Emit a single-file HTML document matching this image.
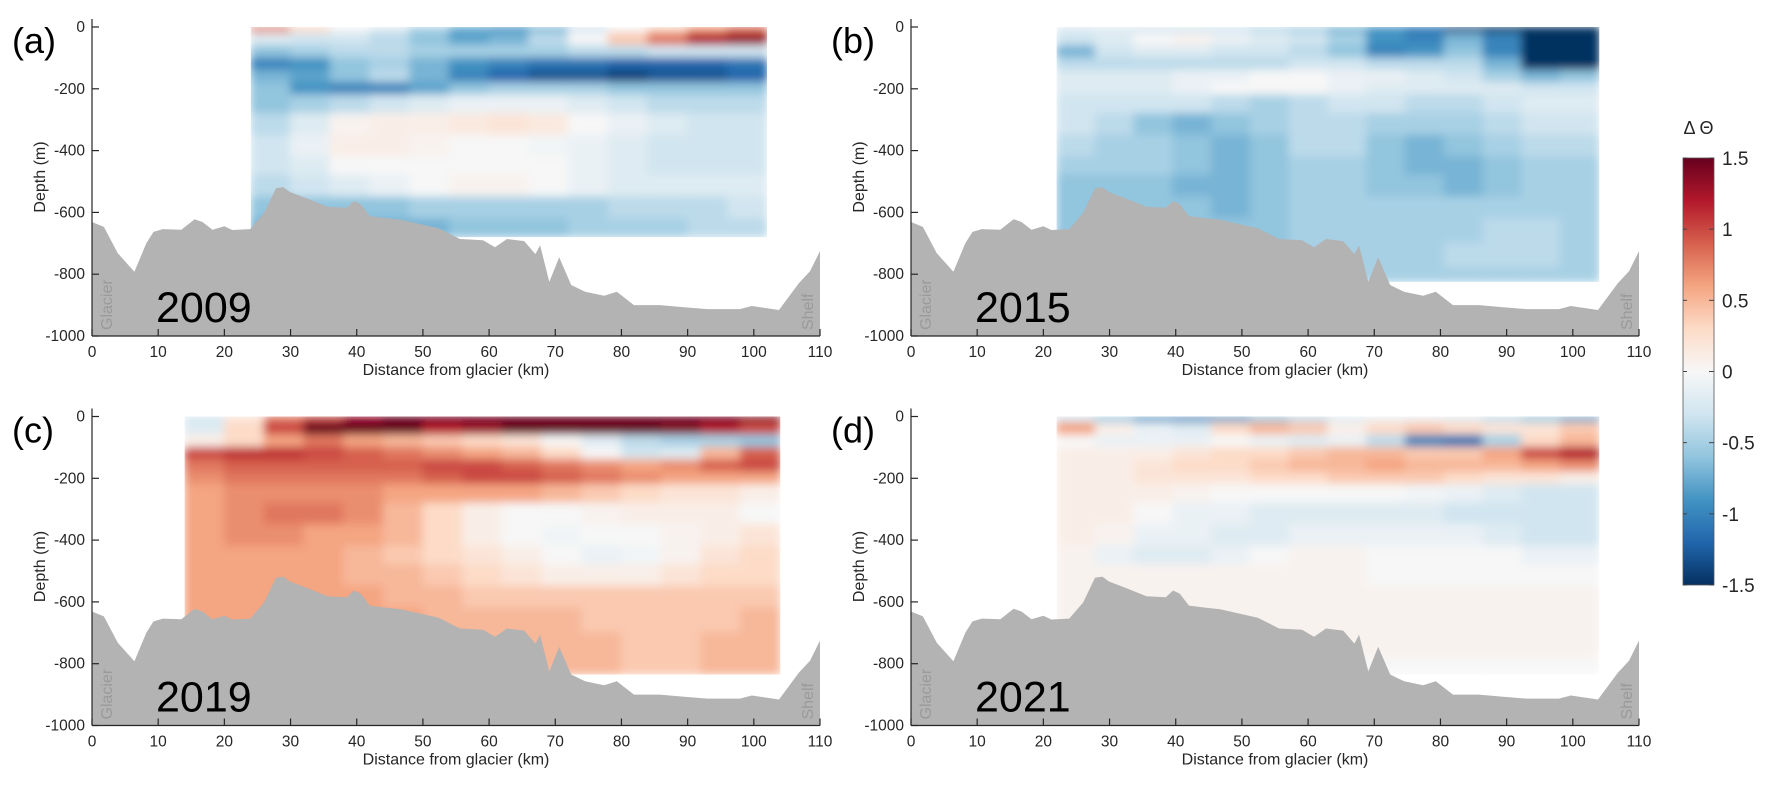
<!DOCTYPE html>
<html><head><meta charset="utf-8"><style>
html,body{margin:0;padding:0;background:#fff;}
svg{display:block;font-family:"Liberation Sans",sans-serif;}
</style></head><body>
<svg id="fig" width="1771" height="786" viewBox="0 0 1771 786">
<defs>
<filter id="soft" x="0" y="0" width="1" height="1"><feGaussianBlur stdDeviation="4.5" edgeMode="duplicate"/></filter>
<linearGradient id="cbar" x1="0" y1="1" x2="0" y2="0">
<stop offset="0" stop-color="#053061"/><stop offset="0.1" stop-color="#2166ac"/><stop offset="0.2" stop-color="#4393c3"/><stop offset="0.3" stop-color="#92c5de"/><stop offset="0.4" stop-color="#d1e5f0"/><stop offset="0.5" stop-color="#f7f7f7"/><stop offset="0.6" stop-color="#fddbc7"/><stop offset="0.7" stop-color="#f4a582"/><stop offset="0.8" stop-color="#d6604d"/><stop offset="0.9" stop-color="#b2182b"/><stop offset="1" stop-color="#67001f"/>
</linearGradient>
</defs>
</svg>
<script>
// ---- data ----
const depthEdges=[0,20,60,100,140,180,220,280,350,420,480,550,620,700,780,840];
const xTicks=[0,10,20,30,40,50,60,70,80,90,100,110];
const yTicks=[0,-200,-400,-600,-800,-1000];
const cbarTicks=[1.5,1,0.5,0,-0.5,-1,-1.5];
const bathyKm=[0,1.8,3.9,6.4,8.2,9.3,10.7,13.5,15.5,16.7,18.2,20,21.2,23.9,26,27.8,28.9,29.9,32.4,35.6,38.5,39.6,40.6,42,44.6,46.7,50.3,52.4,55.6,57.4,59.1,60.9,62.7,65.3,67,67.7,69.1,70.6,72.4,74.5,77.4,79.3,81.9,85.8,89.5,93,97.9,99.7,103.8,106.8,108.5,110];
const bathyDepth=[-631,-647,-732,-792,-700,-663,-654,-656,-622,-631,-656,-645,-657,-654,-602,-522,-518,-534,-554,-582,-585,-563,-573,-612,-619,-624,-641,-651,-686,-688,-690,-713,-686,-693,-735,-706,-825,-745,-835,-857,-870,-857,-900,-900,-907,-913,-913,-903,-916,-829,-790,-725];
const yearA="2009",yearB="2015",yearC="2019",yearD="2021";
const extentA=[24,102,680],extentB=[22,104,825],extentC=[14,104,835],extentD=[22,104,835];
const dataA=[
[0.8,0.3,0,-0.2,-0.5,-0.8,-0.9,-0.7,-0.3,0,0.3,0.6,0.8],
[-0.2,-0.3,-0.3,-0.4,-0.6,-0.8,-0.7,-0.4,0,0.4,0.8,1.2,1.3],
[-0.6,-0.5,-0.4,-0.4,-0.5,-0.5,-0.5,-0.5,-0.4,-0.4,-0.3,-0.3,-0.3],
[-1.0,-0.9,-0.6,-0.5,-0.7,-0.9,-1.0,-1.1,-1.1,-1.2,-1.2,-1.2,-1.1],
[-0.7,-0.8,-0.6,-0.4,-0.7,-1.0,-1.2,-1.3,-1.3,-1.4,-1.3,-1.3,-1.2],
[-0.6,-0.9,-1.0,-1.0,-0.8,-0.6,-0.5,-0.5,-0.5,-0.6,-0.6,-0.6,-0.6],
[-0.6,-0.5,-0.4,-0.3,-0.2,-0.1,-0.1,-0.1,-0.2,-0.3,-0.4,-0.4,-0.4],
[-0.4,-0.2,0.05,0.1,0.1,0.15,0.2,0.15,0,-0.1,-0.2,-0.3,-0.3],
[-0.3,-0.1,0.1,0.1,0.05,0,0,-0.05,-0.1,-0.2,-0.3,-0.3,-0.3],
[-0.3,-0.2,0,0,0,0,0,0,-0.1,-0.2,-0.3,-0.3,-0.3],
[-0.4,-0.3,-0.2,-0.1,0,0.05,0.05,0,-0.1,-0.2,-0.2,-0.2,-0.2],
[-0.6,-0.6,-0.6,-0.6,-0.5,-0.5,-0.5,-0.5,-0.5,-0.4,-0.4,-0.4,-0.3],
[-0.7,-0.7,-0.7,-0.7,-0.7,-0.6,-0.6,-0.6,-0.5,-0.5,-0.5,-0.4,-0.4]];
const dataB=[
[-0.2,-0.2,-0.3,-0.3,-0.3,-0.4,-0.5,-0.7,-0.9,-1.1,-1.4,-1.5,-1.5,-1.5],
[-0.3,-0.2,0,0.05,-0.1,-0.2,-0.3,-0.5,-0.9,-1.0,-0.7,-1.0,-1.5,-1.5],
[-0.7,-0.3,-0.2,-0.2,-0.3,-0.3,-0.4,-0.6,-1.0,-0.9,-0.6,-1.0,-1.5,-1.5],
[-0.4,-0.4,-0.4,-0.4,-0.4,-0.4,-0.3,-0.3,-0.4,-0.4,-0.4,-0.7,-1.5,-1.5],
[-0.2,-0.2,-0.2,-0.1,-0.1,0,0,-0.1,-0.1,-0.2,-0.3,-0.5,-0.7,-0.6],
[-0.2,-0.2,-0.2,-0.1,0,0,0,-0.1,-0.2,-0.2,-0.2,-0.2,-0.3,-0.3],
[-0.3,-0.3,-0.3,-0.3,-0.4,-0.5,-0.4,-0.3,-0.3,-0.4,-0.4,-0.3,-0.2,-0.2],
[-0.3,-0.4,-0.6,-0.7,-0.6,-0.5,-0.4,-0.4,-0.5,-0.5,-0.5,-0.4,-0.3,-0.3],
[-0.4,-0.5,-0.5,-0.6,-0.7,-0.6,-0.4,-0.4,-0.6,-0.7,-0.6,-0.5,-0.4,-0.4],
[-0.5,-0.5,-0.5,-0.6,-0.7,-0.6,-0.5,-0.5,-0.6,-0.7,-0.7,-0.6,-0.5,-0.5],
[-0.6,-0.6,-0.6,-0.7,-0.7,-0.6,-0.5,-0.5,-0.6,-0.6,-0.7,-0.6,-0.5,-0.5],
[-0.6,-0.6,-0.6,-0.6,-0.7,-0.6,-0.5,-0.5,-0.5,-0.5,-0.5,-0.5,-0.5,-0.5],
[-0.6,-0.6,-0.6,-0.6,-0.6,-0.6,-0.5,-0.5,-0.5,-0.5,-0.5,-0.4,-0.4,-0.5],
[-0.6,-0.6,-0.6,-0.6,-0.6,-0.6,-0.5,-0.5,-0.5,-0.5,-0.4,-0.4,-0.4,-0.5],
[-0.5,-0.5,-0.5,-0.5,-0.5,-0.5,-0.5,-0.5,-0.5,-0.5,-0.5,-0.5,-0.5,-0.5]];
const dataC=[
[-0.3,0.2,0.8,1.0,1.3,1.5,1.5,1.5,1.5,1.5,1.5,1.5,1.5,1.5,1.4],
[-0.2,0.3,1.0,1.5,1.5,1.5,1.2,1.3,1.5,1.5,1.5,1.5,1.4,1.2,1.0],
[0.1,0.3,0.6,0.8,0.6,0.5,0.4,0.3,0.2,0,-0.2,-0.4,-0.5,-0.5,-0.6],
[1.0,1.1,1.1,1.0,0.9,0.8,0.7,0.6,0.5,0.3,0,-0.3,-0.2,0.5,0.9],
[0.8,0.9,0.9,0.9,0.9,0.9,1.0,1.0,0.9,0.8,0.7,0.6,0.7,0.9,1.0],
[0.7,0.8,0.8,0.8,0.8,0.8,0.9,1.0,1.0,0.9,0.8,0.7,0.6,0.6,0.6],
[0.6,0.7,0.7,0.7,0.7,0.6,0.6,0.6,0.6,0.5,0.4,0.3,0.2,0.2,0.1],
[0.6,0.7,0.8,0.8,0.7,0.5,0.3,0.1,0,0,0.05,0.1,0.1,0.1,0],
[0.6,0.7,0.7,0.6,0.6,0.5,0.3,0.1,0,-0.05,0,0,0.05,0.1,0.2],
[0.6,0.6,0.6,0.6,0.5,0.4,0.3,0.2,0.1,0,-0.1,-0.05,0.05,0.2,0.3],
[0.6,0.6,0.6,0.6,0.5,0.5,0.4,0.3,0.2,0.1,0.1,0.1,0.2,0.3,0.3],
[0.6,0.6,0.6,0.6,0.6,0.5,0.5,0.4,0.4,0.4,0.4,0.4,0.4,0.4,0.4],
[0.6,0.6,0.6,0.6,0.6,0.6,0.5,0.5,0.5,0.5,0.4,0.4,0.4,0.4,0.5],
[0.6,0.6,0.6,0.6,0.6,0.6,0.6,0.5,0.5,0.5,0.5,0.4,0.4,0.5,0.5],
[0.5,0.5,0.5,0.5,0.5,0.5,0.5,0.5,0.5,0.5,0.5,0.4,0.4,0.5,0.5]];
const dataD=[
[-0.3,-0.6,-0.9,-1.0,-0.9,-0.6,-0.4,-0.2,-0.1,-0.1,-0.2,-0.4,-0.6,-0.8],
[0.6,0.1,-0.1,-0.2,0.3,0.5,0.4,0.1,0.3,0.4,0.3,0.2,0.2,0.4],
[0,-0.1,-0.1,-0.1,0,-0.1,-0.2,-0.1,-0.4,-1.0,-1.1,-0.5,0.3,0.5],
[0.1,0.1,0.1,0.2,0.3,0.3,0.4,0.5,0.5,0.4,0.4,0.6,1.0,1.2],
[0.1,0.1,0.2,0.3,0.3,0.4,0.5,0.5,0.6,0.5,0.5,0.5,0.6,0.7],
[0.1,0.1,0.2,0.2,0.2,0.3,0.3,0.4,0.4,0.4,0.3,0.2,0.2,0.1],
[0.1,0.1,0.1,0.05,0,0,0,0,0,-0.05,-0.1,-0.2,-0.3,-0.3],
[0.1,0.1,0,-0.1,-0.1,-0.2,-0.2,-0.2,-0.2,-0.2,-0.3,-0.3,-0.3,-0.3],
[0.1,0.05,-0.1,-0.1,-0.2,-0.2,-0.1,-0.1,-0.1,-0.1,-0.1,-0.2,-0.3,-0.3],
[0.05,-0.1,-0.2,-0.2,-0.1,0,0.05,0.05,0,0,0,0,-0.1,-0.1],
[0.05,0.05,0.05,0.05,0.05,0.05,0.05,0.05,0,0,0,0,0,0],
[0.05,0.05,0.05,0.05,0.05,0.05,0.05,0.05,0.05,0.05,0.05,0.05,0.05,0.05],
[0.05,0.05,0.05,0.05,0.05,0.05,0.05,0.05,0.05,0.05,0.05,0.05,0.05,0.05],
[0.05,0.05,0.05,0.05,0.05,0.05,0.05,0.05,0.05,0.05,0.05,0.05,0.05,0.05],
[0,0,0,0,0,0,0,0,0,0,0,0,0,0]];

// ---- rendering ----
const NS="http://www.w3.org/2000/svg";
const svg=document.getElementById('fig');
const cmapStops=["#053061","#2166ac","#4393c3","#92c5de","#d1e5f0","#f7f7f7","#fddbc7","#f4a582","#d6604d","#b2182b","#67001f"];
function hex(h){return [1,3,5].map(i=>parseInt(h.substr(i,2),16));}
function cmap(v){let t=(Math.max(-1.5,Math.min(1.5,v))+1.5)/3*10;let i=Math.min(9,Math.floor(t));let f=t-i;let a=hex(cmapStops[i]),b=hex(cmapStops[i+1]);return 'rgb('+a.map((c,k)=>Math.round(c+(b[k]-c)*f)).join(',')+')';}
function mk(tag,attrs,parent){const e=document.createElementNS(NS,tag);for(const k in attrs)e.setAttribute(k,attrs[k]);(parent||svg).appendChild(e);return e;}
const KM=728/110, MP=309/1000;
function panel(id,X0,Y0,letter,year,extent,data){
  const g=mk('g',{});
  
  
  const xs=km=>X0+km*KM, ys=d=>Y0-d*MP;
  const [k0,k1,maxD]=extent;
  const clipId='clip'+id;
  const cp=mk('clipPath',{id:clipId},g);
  mk('rect',{x:xs(k0),y:ys(0),width:xs(k1)-xs(k0),height:maxD*MP},cp);
  const hm=mk('g',{'clip-path':'url(#'+clipId+')'},g);
  
  
  const inner=mk('g',{filter:'url(#soft)'},hm);
  const nc=data[0].length, cw=(k1-k0)/nc;
  data.forEach((row,r)=>{
    const d0=depthEdges[r], d1=Math.min(depthEdges[r+1],maxD);
    if(d0>=maxD)return;
    row.forEach((v,c)=>{
      const cell=mk('rect',{x:xs(k0+c*cw)-0.5,y:ys(-d0)-0.5,width:cw*KM+1,height:(d1-d0)*MP+1,fill:cmap(v)},inner);
      
      
    });
  });
  let p='M'+xs(bathyKm[0])+','+ys(-1000);
  bathyKm.forEach((k,i)=>{p+=' L'+xs(k).toFixed(1)+','+ys(bathyDepth[i]).toFixed(1);});
  p+=' L'+xs(110)+','+ys(-1000)+' Z';
  const b=mk('path',{d:p,fill:'#b3b3b3'},g);
  
  
  const ax=mk('g',{stroke:'#262626','stroke-width':1.2,fill:'none'},g);
  
  
  mk('line',{x1:X0,y1:Y0-8,x2:X0,y2:ys(-1000)},ax);
  mk('line',{x1:X0,y1:ys(-1000),x2:xs(110),y2:ys(-1000)},ax);
  xTicks.forEach(t=>{
    mk('line',{x1:xs(t),y1:ys(-1000),x2:xs(t),y2:ys(-1000)-7},ax);
    const tx=mk('text',{x:xs(t),y:ys(-1000)+21,'font-size':15.5,'text-anchor':'middle',fill:'#262626'},g);
    tx.textContent=t;
    
    
  });
  yTicks.forEach(t=>{
    mk('line',{x1:X0,y1:ys(t),x2:X0+7,y2:ys(t)},ax);
    const tx=mk('text',{x:X0-7,y:ys(t)+5,'font-size':15.5,'text-anchor':'end',fill:'#262626'},g);
    tx.textContent=t;
    
    
  });
  const xt=mk('text',{x:xs(55),y:Y0+348,'font-size':16,'text-anchor':'middle',fill:'#262626'},g);
  xt.textContent='Distance from glacier (km)';
  
  
  const yt=mk('text',{transform:'translate('+(X0-47)+','+(Y0+150)+') rotate(-90)','font-size':16,'text-anchor':'middle',fill:'#262626'},g);
  yt.textContent='Depth (m)';
  
  
  const gl=mk('text',{transform:'translate('+(X0+20)+','+(ys(-1000)-6)+') rotate(-90)','font-size':16,fill:'#9a9a9a'},g);
  gl.textContent='Glacier';
  
  
  const sh=mk('text',{transform:'translate('+(xs(110)-7)+','+(ys(-1000)-6)+') rotate(-90)','font-size':16,fill:'#9a9a9a'},g);
  sh.textContent='Shelf';
  
  
  const yr=mk('text',{x:X0+64,y:Y0+295,'font-size':43,fill:'#000'},g);
  yr.textContent=year;
  
  
  const pl=mk('text',{x:X0-80,y:Y0+26,'font-size':36,fill:'#000'},g);
  pl.textContent='('+letter+')';
  
  
}
panel('a',92,27,'a',yearA,extentA,dataA);
panel('b',911,27,'b',yearB,extentB,dataB);
panel('c',92,416.5,'c',yearC,extentC,dataC);
panel('d',911,416.5,'d',yearD,extentD,dataD);
const cb=mk('g',{});


const CX=1683,CW=31,CT=158,CB=585;
mk('rect',{x:CX,y:CT,width:CW,height:CB-CT,fill:'url(#cbar)',stroke:'#555','stroke-width':0.8},cb);
const cs=v=>CB-(v+1.5)/3*(CB-CT);
cbarTicks.forEach(t=>{
  mk('line',{x1:CX+CW-5,y1:cs(t),x2:CX+CW,y2:cs(t),stroke:'#444','stroke-width':1},cb);
  mk('line',{x1:CX,y1:cs(t),x2:CX+4,y2:cs(t),stroke:'#444','stroke-width':1},cb);
  const tx=mk('text',{x:CX+CW+8,y:cs(t)+7,'font-size':19,fill:'#262626'},cb);
  tx.textContent=t;
  
  
});
const ct=mk('text',{x:CX+CW/2,y:CT-24,'font-size':18,'text-anchor':'middle',fill:'#262626'},cb);
ct.textContent='Δ Θ';


</script>
</body></html>
